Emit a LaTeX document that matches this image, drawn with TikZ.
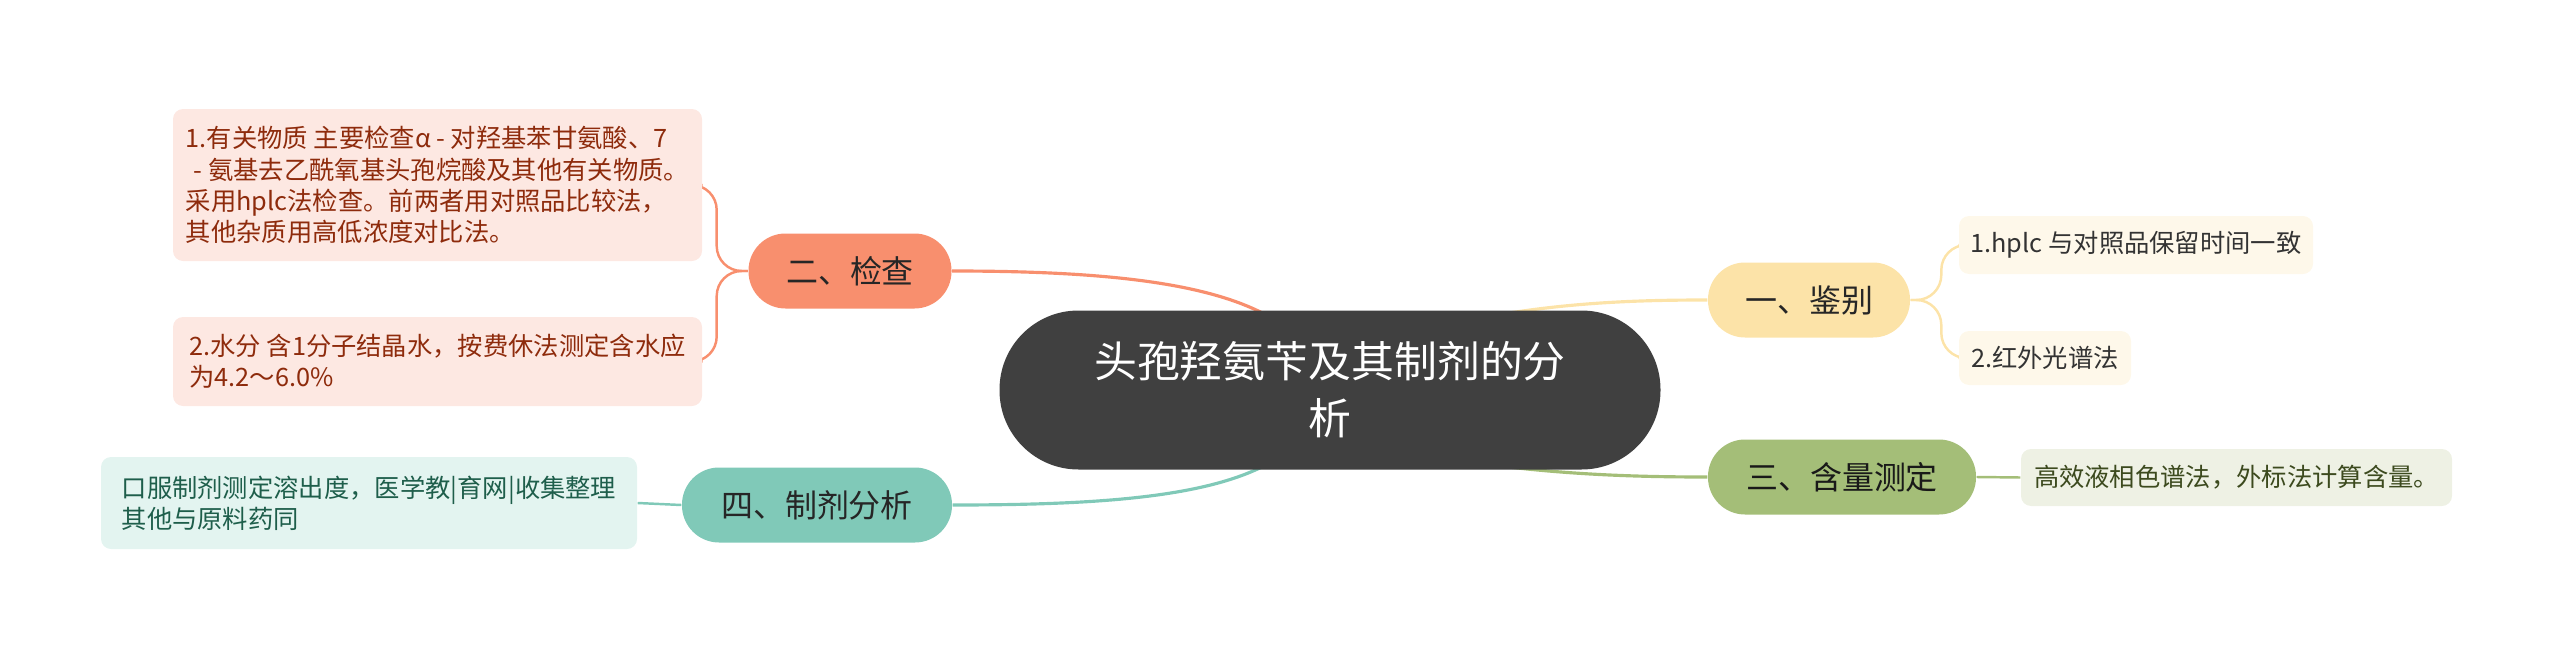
\documentclass[tikz,border=0pt]{standalone}
\usepackage{fontspec}
\setmainfont{Noto Sans CJK SC}
\usetikzlibrary{calc,backgrounds}
\definecolor{rootgray}{HTML}{404040}
\definecolor{jcfill}{HTML}{F88F6E}
\definecolor{jcleaf}{HTML}{FDE8E2}
\definecolor{jctext}{HTML}{8E2B0C}
\definecolor{jbfill}{HTML}{FCE3A8}
\definecolor{jbleaf}{HTML}{FEF8EA}
\definecolor{hlfill}{HTML}{A4BE78}
\definecolor{hlleaf}{HTML}{EEF1E4}
\definecolor{hltext}{HTML}{3C4A1E}
\definecolor{zjfill}{HTML}{80C9B8}
\definecolor{zjleaf}{HTML}{E3F4F0}
\definecolor{zjtext}{HTML}{1E5E4B}
\tikzset{
	root/.style={fill=rootgray, text=white, rounded corners=0.79cm, minimum width=6.61cm, minimum height=1.59cm, inner sep=0pt, align=center, font=\fontsize{12.2}{16.2}\selectfont},
	branch/.style={rounded corners=0.37cm, minimum height=0.75cm, inner sep=0pt, text=black!85, font=\fontsize{9.1}{11}\selectfont},
	leaf/.style={rounded corners=0.1cm, inner sep=0pt, align=left, font=\fontsize{7.2}{8.9}\selectfont},
	link/.style={line width=0.9pt},
	twig/.style={line width=0.7pt, rounded corners=0.25cm},
}

\begin{document}
\begin{tikzpicture}
			%%%%% START %%%%%
			\useasboundingbox (0, 0) rectangle (25.6, -6.58);
			
			\node[root] (root) at (13.3, -3.9) {头孢羟氨苄及其制剂的分\\析};
			
			\node[branch, fill=jcfill, minimum width=2.03cm] (jc) at (8.5, -2.71) {二、检查};
			\node[branch, fill=jbfill, minimum width=2.02cm] (jb) at (18.09, -3.0) {一、鉴别};
			\node[branch, fill=hlfill, minimum width=2.68cm, text=black!90] (hl) at (18.42, -4.77) {三、含量测定};
			\node[branch, fill=zjfill, minimum width=2.7cm] (zj) at (8.17, -5.05) {四、制剂分析};
			
			\node[leaf, fill=jcleaf, text=jctext, minimum width=5.29cm, minimum height=1.52cm] (jc1) at (4.375, -1.85) {1.有关物质 主要检查α - 对羟基苯甘氨酸、7\\\hspace{0.08cm}- 氨基去乙酰氧基头孢烷酸及其他有关物质。\\采用hplc法检查。前两者用对照品比较法，\\其他杂质用高低浓度对比法。};
			\node[leaf, fill=jcleaf, text=jctext, minimum width=5.29cm, minimum height=0.89cm] (jc2) at (4.375, -3.615) {2.水分 含1分子结晶水，按费休法测定含水应\\为4.2～6.0\%};
			
			\node[leaf, fill=jbleaf, text=black!80, minimum width=3.54cm, minimum height=0.58cm] (jb1) at (21.36, -2.45) {1.hplc 与对照品保留时间一致};
			\node[leaf, fill=jbleaf, text=black!80, minimum width=1.72cm, minimum height=0.54cm] (jb2) at (20.45, -3.58) {2.红外光谱法};
			
			\node[leaf, fill=hlleaf, text=hltext, minimum width=4.31cm, minimum height=0.57cm] (hl1) at (22.365, -4.775) {高效液相色谱法，外标法计算含量。};
			
			\node[leaf, fill=zjleaf, text=zjtext, minimum width=5.36cm, minimum height=0.92cm] (zj1) at (3.69, -5.03) {口服制剂测定溶出度，医学教|育网|收集整理\\其他与原料药同};
			
			\begin{scope}[on background layer]
				% main branches
				\draw[link, color=jcfill] (jc.east) .. controls (11.2, -2.71) and (12.4, -2.85) .. (12.95, -3.35);
				\draw[link, color=jbfill] (14.7, -3.2) .. controls (15.6, -3.02) and (16.4, -3.0) .. (jb.west);
				\draw[link, color=hlfill] (14.7, -4.62) .. controls (15.6, -4.75) and (16.4, -4.77) .. (hl.west);
				\draw[link, color=zjfill] (zj.east) .. controls (11.2, -5.05) and (12.4, -4.95) .. (12.95, -4.45);
				
				% leaves
				\draw[twig, color=jcfill] (jc.west) -| ($(jc1.east)+(0.14, 0)$) -- (jc1.east);
				\draw[twig, color=jcfill] (jc.west) -| ($(jc2.east)+(0.14, 0)$) -- (jc2.east);
				\draw[twig, color=jbfill] (jb.east) -| ($(jb1.west)+(-0.17, 0)$) -- (jb1.west);
				\draw[twig, color=jbfill] (jb.east) -| ($(jb2.west)+(-0.17, 0)$) -- (jb2.west);
				\draw[twig, color=hlfill] (hl.east) -- (hl1.west);
				\draw[twig, color=zjfill] (zj.west) -- (zj1.east);
			\end{scope}
			%%%%% END %%%%%
		\end{tikzpicture}
\end{document}
